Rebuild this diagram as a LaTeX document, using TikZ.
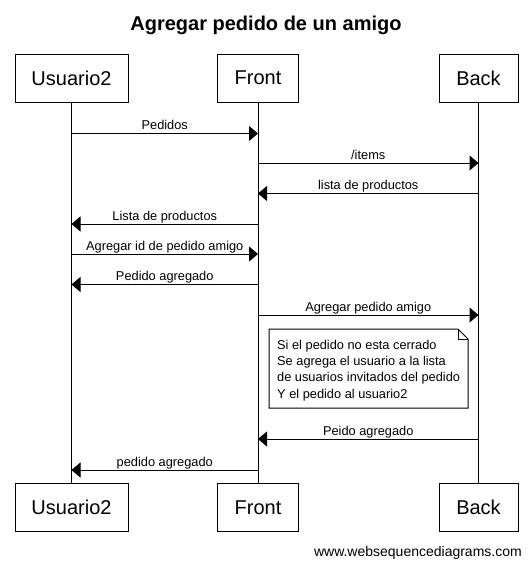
\documentclass[tikz,border=0pt]{standalone}
\usepackage{fontspec}
\setmainfont{Liberation Sans}
\usetikzlibrary{arrows.meta}
\begin{document}
\begin{tikzpicture}[x=1pt,y=-1pt,
  actor/.style={draw, line width=1pt, minimum height=48pt, inner sep=0pt, font=\fontsize{20}{24}\selectfont},
  life/.style={line width=1pt},
  msg/.style={line width=1pt, -{Triangle[length=9pt,width=15pt]}},
  lbl/.style={midway, anchor=base, yshift=4pt, inner sep=0pt, font=\fontsize{12.8}{15}\selectfont},
  notebox/.style={draw, line width=1pt, fill=white},
  notetext/.style={anchor=base west, inner sep=0pt, align=left, font=\fontsize{12.8}{16.2}\selectfont},
]
\useasboundingbox (0,0) rectangle (532,566);

% title
\node[anchor=base, inner sep=0pt, font=\fontsize{20}{24}\bfseries\selectfont] (title) at (266,30) {Agregar pedido de un amigo};

% participants
\node[actor, minimum width=113pt] (u1) at (71.5,78) {Usuario2};
\node[actor, minimum width=81pt]  (f1) at (258,78)  {Front};
\node[actor, minimum width=79pt]  (b1) at (478.5,78) {Back};
\node[actor, minimum width=113pt] (u2) at (71.5,507.5) {Usuario2};
\node[actor, minimum width=81pt]  (f2) at (258,507.5)  {Front};
\node[actor, minimum width=79pt]  (b2) at (478.5,507.5) {Back};

% lifelines
\draw[life] (u1) -- (u2);
\draw[life] (f1) -- (f2);
\draw[life] (b1) -- (b2);

% message end points
\coordinate (m1a) at (u1.south |- 0,133.5);
\coordinate (m1b) at (f1.south |- 0,133.5);
\coordinate (m2a) at (f1.south |- 0,163);
\coordinate (m2b) at (b1.south |- 0,163);
\coordinate (m3a) at (b1.south |- 0,193.5);
\coordinate (m3b) at (f1.south |- 0,193.5);
\coordinate (m4a) at (f1.south |- 0,224);
\coordinate (m4b) at (u1.south |- 0,224);
\coordinate (m5a) at (u1.south |- 0,254);
\coordinate (m5b) at (f1.south |- 0,254);
\coordinate (m6a) at (f1.south |- 0,284.5);
\coordinate (m6b) at (u1.south |- 0,284.5);
\coordinate (m7a) at (f1.south |- 0,315);
\coordinate (m7b) at (b1.south |- 0,315);
\coordinate (m8a) at (b1.south |- 0,439);
\coordinate (m8b) at (f1.south |- 0,439);
\coordinate (m9a) at (f1.south |- 0,470);
\coordinate (m9b) at (u1.south |- 0,470);

% messages
\draw[msg] (m1a) -- (m1b) node[lbl] {Pedidos};
\draw[msg] (m2a) -- (m2b) node[lbl] {/items};
\draw[msg] (m3a) -- (m3b) node[lbl] {lista de productos};
\draw[msg] (m4a) -- (m4b) node[lbl] {Lista de productos};
\draw[msg] (m5a) -- (m5b) node[lbl] {Agregar id de pedido amigo};
\draw[msg] (m6a) -- (m6b) node[lbl] {Pedido agregado};
\draw[msg] (m7a) -- (m7b) node[lbl] {Agregar pedido amigo};
\draw[msg] (m8a) -- (m8b) node[lbl] {Peido agregado};
\draw[msg] (m9a) -- (m9b) node[lbl] {pedido agregado};

% note
\draw[notebox] (269,329) -- (458,329) -- (468,339) -- (468,408) -- (269,408) -- cycle;
\draw[line width=1pt] (458,329) -- (458,339) -- (468,339);
\node[notetext] (note) at (277,398) {Si el pedido no esta cerrado\\Se agrega el usuario a la lista\\de usuarios invitados del pedido\\Y el pedido al usuario2};

% watermark
\node[anchor=base east, inner sep=0pt, font=\fontsize{14}{17}\selectfont] (wm) at (522,556) {www.websequencediagrams.com};
\end{tikzpicture}
\end{document}
